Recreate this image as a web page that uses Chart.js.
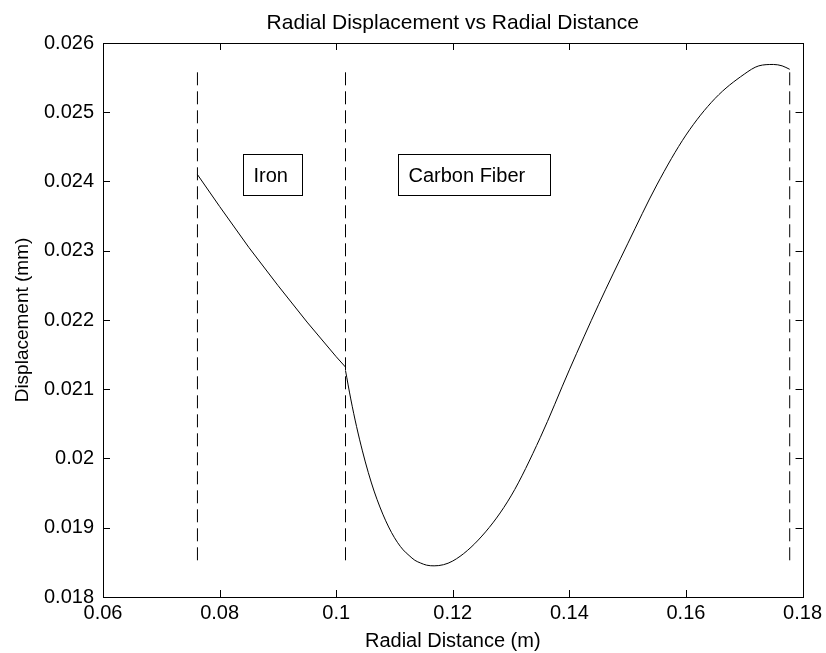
<!DOCTYPE html>
<html>
<head>
<meta charset="utf-8">
<script src="https://cdn.jsdelivr.net/npm/chart.js@4/dist/chart.umd.min.js"></script>
<style>
  html, body { margin: 0; padding: 0; background: #fff; }
  #wrap { width: 826px; height: 653px; }
</style>
</head>
<body>
<div id="wrap"><canvas id="grafico"></canvas></div>
<script>
// === Datos ===
const hierroX = [0.0762, 0.0800, 0.0850, 0.0900, 0.0950, 0.1000, 0.1016];
const hierroY = [0.02410, 0.02364, 0.02305, 0.02250, 0.02197, 0.02147, 0.02132];

const carbonoX = [0.1016, 0.1025, 0.1035, 0.1045, 0.1055, 0.1065, 0.1075, 0.1085, 0.1095, 0.1105,
                  0.1115, 0.1125, 0.1135, 0.1145, 0.1155, 0.1168, 0.1200, 0.1250, 0.1300, 0.1350,
                  0.1400, 0.1450, 0.1500, 0.1550, 0.1600, 0.1650, 0.1700, 0.1725, 0.1750, 0.1765, 0.1778];
const carbonoY = [0.02127, 0.02086, 0.02046, 0.02011, 0.01980, 0.01953, 0.01930, 0.01910, 0.01893, 0.01879,
                  0.01868, 0.01860, 0.01853, 0.01849, 0.01846, 0.01845, 0.01852, 0.01888, 0.01946, 0.02030,
                  0.02128, 0.02222, 0.02310, 0.02395, 0.02467, 0.02520, 0.02555, 0.02567, 0.02569, 0.02567, 0.02562];

const fronterasX = [0.0762, 0.1016, 0.1778];
const fronteraY = [0.01853, 0.02562];

const ticksX = [0.06, 0.08, 0.1, 0.12, 0.14, 0.16, 0.18];
const etiquetasX = ['0.06', '0.08', '0.1', '0.12', '0.14', '0.16', '0.18'];
const ticksY = [0.018, 0.019, 0.02, 0.021, 0.022, 0.023, 0.024, 0.025, 0.026];
const etiquetasY = ['0.018', '0.019', '0.02', '0.021', '0.022', '0.023', '0.024', '0.025', '0.026'];

const titulo = 'Radial Displacement vs Radial Distance';
const textos = ['Iron', 'Carbon Fiber'];

const familia = '"Liberation Sans", Arial, sans-serif';
const fuente = { family: familia, size: 20 };

const pares = (xs, ys) => xs.map((x, i) => ({ x: x, y: ys[i] }));

const lineas = fronterasX.map(x => ({
  data: [{ x: x, y: fronteraY[0] }, { x: x, y: fronteraY[1] }],
  borderColor: '#000',
  borderWidth: 1,
  borderDash: [13, 6],
  pointRadius: 0,
  showLine: true
}));

// === Caja, marcas hacia dentro, título y cuadros de texto ===
const marco = {
  id: 'marco',
  afterDraw(chart) {
    const { ctx, chartArea: a, scales: { x, y } } = chart;
    ctx.save();
    ctx.strokeStyle = '#000';
    ctx.lineWidth = 1;
    ctx.strokeRect(Math.round(a.left) + 0.5, Math.round(a.top) + 0.5,
                   Math.round(a.right - a.left), Math.round(a.bottom - a.top));
    const L = 7;
    ctx.beginPath();
    x.ticks.forEach(t => {
      const px = Math.round(x.getPixelForValue(t.value)) + 0.5;
      ctx.moveTo(px, a.bottom); ctx.lineTo(px, a.bottom - L);
      ctx.moveTo(px, a.top); ctx.lineTo(px, a.top + L);
    });
    y.ticks.forEach(t => {
      const py = Math.round(y.getPixelForValue(t.value)) + 0.5;
      ctx.moveTo(a.left, py); ctx.lineTo(a.left + L, py);
      ctx.moveTo(a.right, py); ctx.lineTo(a.right - L, py);
    });
    ctx.stroke();

    // título centrado sobre el área del gráfico
    ctx.fillStyle = '#000';
    ctx.font = '21px ' + familia;
    ctx.textAlign = 'center';
    ctx.textBaseline = 'middle';
    ctx.fillText(titulo, (a.left + a.right) / 2, 23);

    // cuadros de texto
    const cajas = chart.options.plugins.marco.cajas;
    ctx.font = fuente.size + 'px ' + familia;
    ctx.textAlign = 'left';
    cajas.forEach((c, i) => {
      const x0 = Math.round(x.getPixelForValue(c.x0)) + 0.5;
      const x1 = Math.round(x.getPixelForValue(c.x1)) + 0.5;
      const y0 = Math.round(y.getPixelForValue(c.y0)) + 0.5;
      const y1 = Math.round(y.getPixelForValue(c.y1)) + 0.5;
      ctx.fillStyle = '#fff';
      ctx.fillRect(x0, y0, x1 - x0, y1 - y0);
      ctx.strokeRect(x0, y0, x1 - x0, y1 - y0);
      ctx.fillStyle = '#000';
      ctx.fillText(textos[i], x0 + 10, (y0 + y1) / 2 + 1);
    });
    ctx.restore();
  }
};

new Chart(document.getElementById('grafico'), {
  type: 'scatter',
  data: {
    datasets: [
      { data: pares(hierroX, hierroY), borderColor: '#000', borderWidth: 1, pointRadius: 0, showLine: true },
      { data: pares(carbonoX, carbonoY), borderColor: '#000', borderWidth: 1, pointRadius: 0, showLine: true,
        cubicInterpolationMode: 'monotone' },
      ...lineas
    ]
  },
  options: {
    responsive: true,
    maintainAspectRatio: false,
    animation: false,
    layout: { padding: { left: 0, right: 23, top: 43, bottom: 0 } },
    plugins: {
      legend: { display: false },
      tooltip: { enabled: false },
      title: { display: false },
      marco: {
        cajas: [
          { x0: 0.08395, x1: 0.09406, y0: 0.02440, y1: 0.02380 },
          { x0: 0.11063, x1: 0.13663, y0: 0.02440, y1: 0.02380 }
        ]
      }
    },
    scales: {
      x: {
        type: 'linear',
        min: 0.06, max: 0.18,
        afterBuildTicks: s => { s.ticks = ticksX.map(v => ({ value: v })); },
        afterFit: s => { s.height = 56; },
        ticks: {
          color: '#000', font: fuente, padding: 4, maxRotation: 0,
          callback: (v) => etiquetasX[ticksX.indexOf(v)]
        },
        grid: { display: false, drawTicks: false },
        border: { display: false },
        title: { display: true, text: 'Radial Distance (m)', color: '#000', font: fuente, padding: { top: 0, bottom: 0 } }
      },
      y: {
        type: 'linear',
        min: 0.018, max: 0.026,
        afterBuildTicks: s => { s.ticks = ticksY.map(v => ({ value: v })); },
        afterFit: s => { s.width = 103; },
        ticks: {
          color: '#000', font: fuente, padding: 9,
          callback: (v) => etiquetasY[ticksY.indexOf(v)]
        },
        grid: { display: false, drawTicks: false },
        border: { display: false },
        title: { display: true, text: 'Displacement (mm)', color: '#000', font: { family: familia, size: 19 }, padding: { top: 11, bottom: 0 } }
      }
    }
  },
  plugins: [marco]
});
</script>
</body>
</html>
